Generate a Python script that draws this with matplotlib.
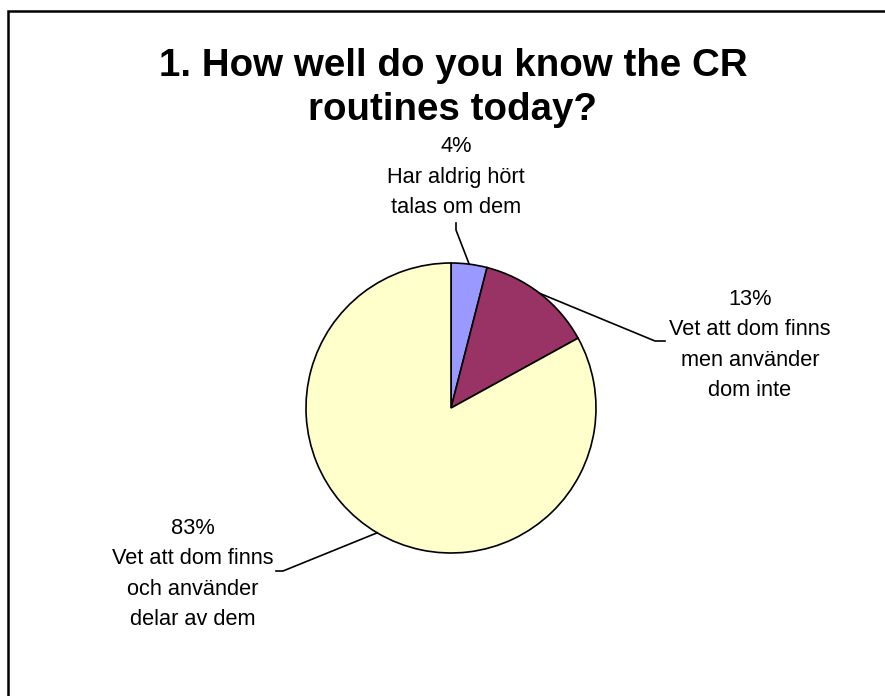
import matplotlib.pyplot as plt
import numpy as np
from matplotlib.patches import Rectangle

plt.rcParams['font.family'] = ['Liberation Sans', 'DejaVu Sans']

title = '1. How well do you know the CR\nroutines today?'
shares = [4, 13, 83]
answers = ['Har aldrig hört\ntalas om dem',
           'Vet att dom finns\nmen använder\ndom inte',
           'Vet att dom finns\noch använder\ndelar av dem']
colors = ['#9999FF', '#993366', '#FFFFCC']

W, H = 885, 696
fig = plt.figure(figsize=(W / 100, H / 100), dpi=100)
ax = fig.add_axes([0, 0, 1, 1])

cx, cy, r = 451, H - 408, 145
wedges, _ = ax.pie(shares, colors=colors, startangle=90, counterclock=False,
                   center=(cx, cy), radius=r, frame=True,
                   wedgeprops=dict(edgecolor='black', linewidth=1.2))
ax.set_xlim(0, W)
ax.set_ylim(0, H)
ax.axis('off')

# label block centres and leader line bends (pixel coords, y down)
label_pos = [(456, 177), (750, 345), (193, 574)]
bends = [[(456, 230), (456, 223)],
         [(655, 341), (665, 341)],
         [(283, 571), (276, 571)]]

for w, share, txt, (lx, ly), bend in zip(wedges, shares, answers, label_pos, bends):
    mid = np.deg2rad((w.theta1 + w.theta2) / 2)
    sx, sy = cx + r * np.cos(mid), cy + r * np.sin(mid)
    xs = [sx] + [b[0] for b in bend]
    ys = [sy] + [H - b[1] for b in bend]
    ax.plot(xs, ys, color='black', lw=1.2)
    ax.text(lx, H - ly, f'{share}%\n{txt}', ha='center', va='center',
            multialignment='center', fontsize=15.7, linespacing=1.6)

ax.text(453, H - 88, title, ha='center', va='center', fontsize=27.7,
        fontweight='bold', linespacing=1.25)

# chart area border
ax.add_patch(Rectangle((8, -50), W + 50, H - 11 + 50, fill=False,
                       edgecolor='black', lw=1.8, clip_on=False))

fig.savefig('out.png', dpi=100)
